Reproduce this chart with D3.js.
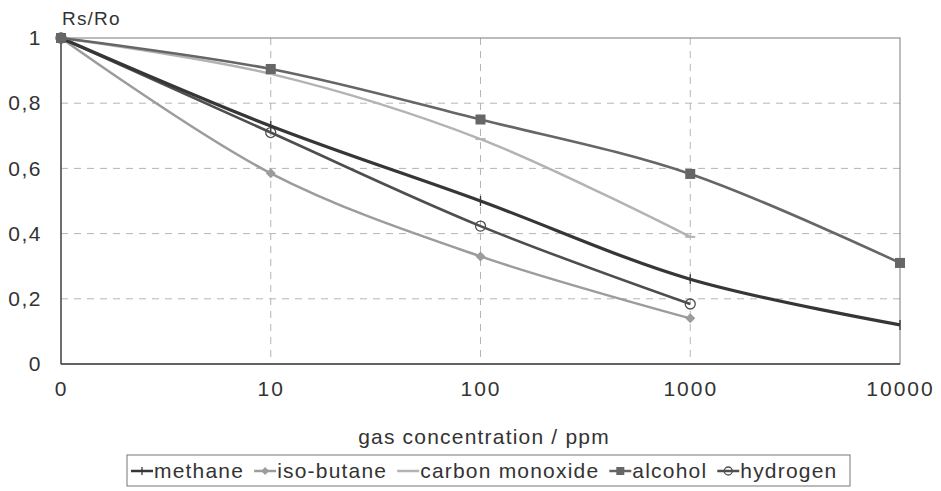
<!DOCTYPE html>
<html>
<head>
<meta charset="utf-8">
<script src="https://cdn.jsdelivr.net/npm/d3@7"></script>
<style>
  body { margin: 0; background: #fff; }
  text { font-family: "Liberation Sans", Arial, sans-serif; fill: #333; }
</style>
</head>
<body>
<svg id="chart" width="941" height="491"></svg>
<script>
var categories = ["0", "10", "100", "1000", "10000"];
var yTicks = [0, 0.2, 0.4, 0.6, 0.8, 1];

var methane = [1, 0.73, 0.50, 0.26, 0.12];
var isoButane = [1, 0.585, 0.33, 0.14];
var carbonMonoxide = [1, 0.89, 0.69, 0.39];
var alcohol = [1, 0.905, 0.75, 0.583, 0.31];
var hydrogen = [1, 0.71, 0.423, 0.184];

var seriesNames = ["methane", "iso-butane", "carbon monoxide", "alcohol", "hydrogen"];
var seriesValues = [methane, isoButane, carbonMonoxide, alcohol, hydrogen];

// style per series: colour, width, marker
var styles = [
    { color: "#363636", width: 3.2, marker: "plus" },
    { color: "#9c9c9c", width: 2.5, marker: "diamond" },
    { color: "#b3b3b3", width: 2.5, marker: "dash" },
    { color: "#666666", width: 2.6, marker: "square" },
    { color: "#4e4e4e", width: 2.6, marker: "circle" }
];

var svg = d3.select("#chart");
var plotL = 61, plotR = 900, plotT = 38, plotB = 364;

var x = d3.scalePoint().domain(categories).range([plotL, plotR]);
var y = d3.scaleLinear().domain([0, 1]).range([plotB, plotT]);
var fmt = function (d) { return d3.format("~g")(d).replace(".", ","); };

// grid
svg.append("g").selectAll("line")
    .data(yTicks.filter(function (d) { return d > 0 && d < 1; }))
    .enter().append("line")
    .attr("x1", plotL).attr("x2", plotR)
    .attr("y1", function (d) { return y(d); }).attr("y2", function (d) { return y(d); })
    .style("stroke", "#b5b5b5").style("stroke-dasharray", "7,6").style("stroke-width", 1);

svg.append("g").selectAll("line")
    .data(categories.slice(1, -1))
    .enter().append("line")
    .attr("y1", plotT).attr("y2", plotB)
    .attr("x1", function (d) { return x(d); }).attr("x2", function (d) { return x(d); })
    .style("stroke", "#b5b5b5").style("stroke-dasharray", "7,6").style("stroke-width", 1);

// frame
svg.append("rect")
    .attr("x", plotL).attr("y", plotT)
    .attr("width", plotR - plotL).attr("height", plotB - plotT)
    .style("fill", "none").style("stroke", "#7a7a7a").style("stroke-width", 1);
svg.append("line").attr("x1", plotL).attr("x2", plotL).attr("y1", plotT).attr("y2", plotB)
    .style("stroke", "#444").style("stroke-width", 1.3);
svg.append("line").attr("x1", plotL).attr("x2", plotR).attr("y1", plotB).attr("y2", plotB)
    .style("stroke", "#444").style("stroke-width", 1.3);

// axes
var yAxis = svg.append("g")
    .attr("transform", "translate(" + plotL + ",0)")
    .call(d3.axisLeft(y).tickValues(yTicks).tickFormat(fmt).tickSize(0).tickPadding(19));
yAxis.select(".domain").remove();
yAxis.selectAll("text").style("font-size", "21px").style("letter-spacing", "1.5px").style("fill", "#333");

var xAxis = svg.append("g")
    .attr("transform", "translate(0," + plotB + ")")
    .call(d3.axisBottom(x).tickSize(0).tickPadding(17));
xAxis.select(".domain").remove();
xAxis.selectAll("text").style("font-size", "21px").style("letter-spacing", "2px").style("fill", "#333");

svg.append("text").attr("x", plotL + 1).attr("y", 25)
    .style("font-size", "19px").style("letter-spacing", "1.2px").text("Rs/Ro");
svg.append("text").attr("x", 484).attr("y", 444).attr("text-anchor", "middle")
    .style("font-size", "21px").style("letter-spacing", "1.2px").text("gas concentration / ppm");

function drawMarker(g, type, color, cx, cy, s) {
    if (type === "square") {
        g.append("rect").attr("x", cx - s).attr("y", cy - s).attr("width", 2 * s).attr("height", 2 * s)
            .style("fill", color);
    } else if (type === "diamond") {
        g.append("path").attr("d", "M" + cx + "," + (cy - s) + "L" + (cx + s) + "," + cy + "L" + cx + "," + (cy + s) + "L" + (cx - s) + "," + cy + "Z")
            .style("fill", color);
    } else if (type === "circle") {
        g.append("circle").attr("cx", cx).attr("cy", cy).attr("r", s)
            .style("fill", "none").style("stroke", color).style("stroke-width", 1.3);
    } else if (type === "plus") {
        g.append("line").attr("x1", cx).attr("x2", cx).attr("y1", cy - s).attr("y2", cy + s)
            .style("stroke", color).style("stroke-width", 1.3);
    } else if (type === "dash") {
        g.append("line").attr("x1", cx - s).attr("x2", cx + s).attr("y1", cy).attr("y2", cy)
            .style("stroke", color).style("stroke-width", 2);
    }
}

var line = d3.line()
    .x(function (d, i) { return x(categories[i]); })
    .y(function (d) { return y(d); })
    .curve(d3.curveCatmullRom.alpha(0.5));

var order = [1, 2, 4, 0, 3];
order.forEach(function (k) {
    var st = styles[k];
    var g = svg.append("g");
    g.append("path").datum(seriesValues[k]).attr("d", line)
        .style("fill", "none").style("stroke", st.color).style("stroke-width", st.width);
    seriesValues[k].forEach(function (v, i) {
        drawMarker(g, st.marker, st.color, x(categories[i]), y(v), 5);
    });
});

// legend
var legend = svg.append("g");
legend.append("rect").attr("x", 127).attr("y", 455).attr("width", 723).attr("height", 31)
    .style("fill", "#fff").style("stroke", "#777").style("stroke-width", 1);
var lx = 131;
seriesNames.forEach(function (name, k) {
    var st = styles[k];
    var item = legend.append("g");
    item.append("line").attr("x1", lx).attr("x2", lx + 22).attr("y1", 471).attr("y2", 471)
        .style("stroke", st.color).style("stroke-width", 2.5);
    drawMarker(item, st.marker, st.color, lx + 11, 471, 4);
    var t = item.append("text").attr("x", lx + 23).attr("y", 478)
        .style("font-size", "21px").style("letter-spacing", "1.2px").text(name);
    lx += 23 + t.node().getComputedTextLength() + 10;
});
</script>
</body>
</html>
